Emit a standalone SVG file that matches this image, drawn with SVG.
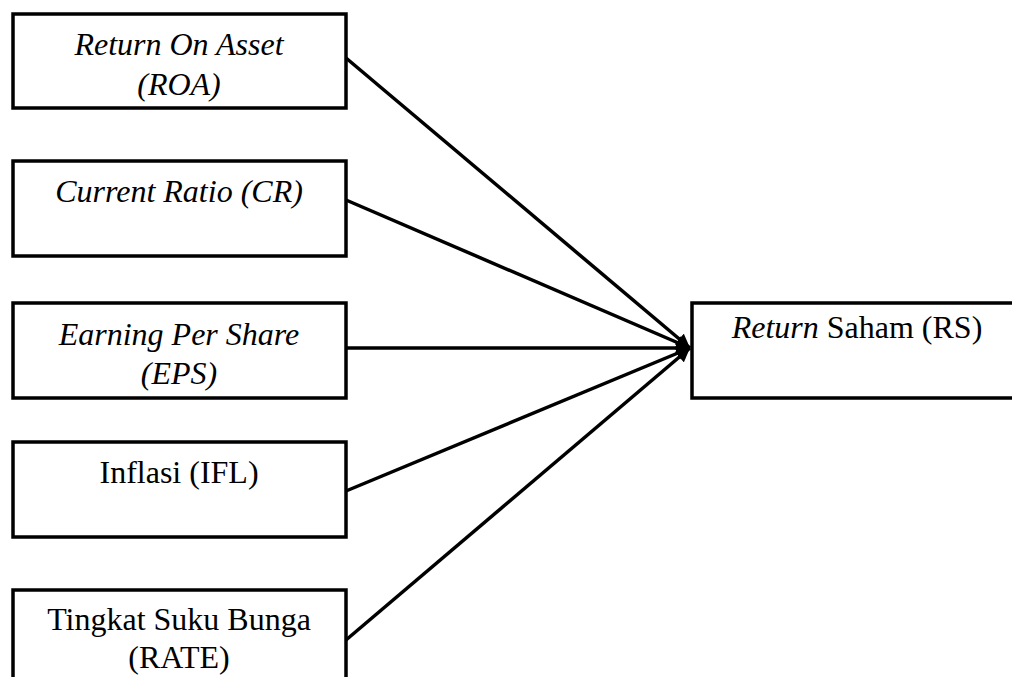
<svg xmlns="http://www.w3.org/2000/svg" width="1012" height="677" viewBox="0 0 1012 677">
  <style>
    .box { fill: #ffffff; stroke: #000000; stroke-width: 3.5; }
    .lbl { font-family: "Liberation Serif", "Times New Roman", serif; font-size: 32px; fill: #000000; text-anchor: middle; }
    .it { font-style: italic; }
    .edge { stroke: #000000; stroke-width: 3.5; fill: none; marker-end: url(#head); }
  </style>
  <defs>
    <marker id="head" viewBox="0 0 10 10" refX="10" refY="5" markerWidth="4" markerHeight="4" orient="auto" markerUnits="strokeWidth">
      <path d="M0,0 L10,5 L0,10 Z" fill="#000000"/>
    </marker>
  </defs>
  <rect width="1012" height="677" fill="#ffffff"/>

  <g id="roa">
    <rect class="box" x="13" y="14" width="333" height="94"/>
    <text class="lbl it" x="179" y="55">Return On Asset</text>
    <text class="lbl it" x="179" y="95">(ROA)</text>
  </g>
  <g id="cr">
    <rect class="box" x="13" y="161" width="333" height="95"/>
    <text class="lbl it" x="179" y="202">Current Ratio (CR)</text>
  </g>
  <g id="eps">
    <rect class="box" x="13" y="303" width="333" height="95"/>
    <text class="lbl it" x="179" y="345">Earning Per Share</text>
    <text class="lbl it" x="179" y="384">(EPS)</text>
  </g>
  <g id="ifl">
    <rect class="box" x="13" y="442" width="333" height="95"/>
    <text class="lbl" x="179" y="483">Inflasi (IFL)</text>
  </g>
  <g id="rate">
    <rect class="box" x="13" y="590" width="333" height="100"/>
    <text class="lbl" x="179" y="630">Tingkat Suku Bunga</text>
    <text class="lbl" x="179" y="668">(RATE)</text>
  </g>
  <g id="rs">
    <rect class="box" x="692" y="303" width="332" height="95"/>
    <text class="lbl" x="857" y="338"><tspan class="it">Return</tspan> Saham (RS)</text>
  </g>

  <g id="connectors">
    <line class="edge" x1="346" y1="58" x2="690" y2="348"/>
    <line class="edge" x1="346" y1="200" x2="690" y2="348"/>
    <line class="edge" x1="346" y1="348" x2="690" y2="348"/>
    <line class="edge" x1="346" y1="491" x2="690" y2="348"/>
    <line class="edge" x1="346" y1="640" x2="690" y2="348"/>
  </g>
</svg>
